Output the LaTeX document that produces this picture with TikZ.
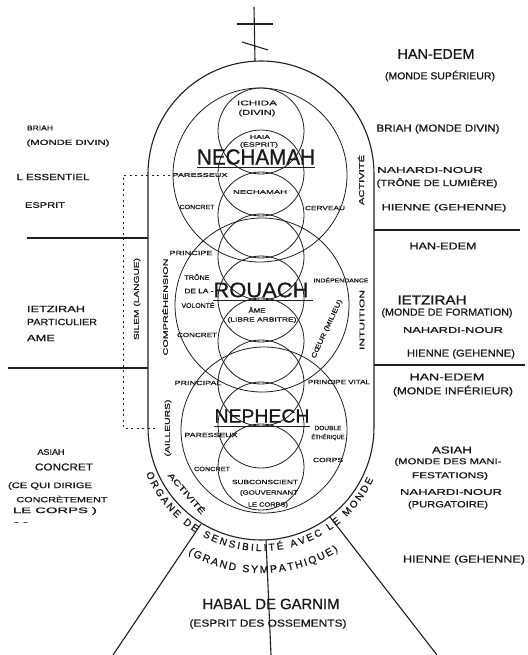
\documentclass[tikz,border=0pt]{standalone}
\usepackage{fontspec}
\usepackage{graphicx}
\newfontfamily\hand[FakeBold=0.8]{Liberation Sans}
\usetikzlibrary{decorations.text}
\newcommand\Lb[3]{{\fontsize{#1}{#1}\selectfont\resizebox{#2pt}{\height}{#3}}}
\begin{document}
\begin{tikzpicture}[x=1pt,y=-1pt,
  ink/.style={draw=black!88, line width=0.8pt},
  heavy/.style={draw=black!88, line width=1.1pt},
  lab/.style={inner sep=0pt, font=\hand, text=black!90},
  dashline/.style={draw=black!88, line width=0.9pt, dash pattern=on 2pt off 3.5pt}]
\useasboundingbox[fill=white] (0,0) rectangle (527,655);

% cross
\coordinate (crossTop) at (254,7);
\coordinate (crossFoot) at (255,61);
\draw[heavy] (crossTop) -- (crossFoot);
\draw[heavy] (237,24) -- (273,24);
\draw[heavy] (242,42) -- (268,50);

% outer stadium
\draw[heavy] (148,427) -- (148,174) arc[start angle=180,end angle=360,radius=113]
  -- (374,427) arc[start angle=0,end angle=180,radius=113] -- cycle;

% big circles
\draw[ink] (260,175) circle[radius=87];
\draw[ink] (262,305) circle[radius=87];
\draw[ink] (264,430) circle[radius=83];
% chain of small circles
\foreach \k in {0,...,8} \draw[ink] (261,{131+42*\k}) circle[radius=43];

% horizontal separators
\draw[heavy] (27,238) -- (148,238);
\draw[heavy] (8,368) -- (148,368);
\draw[heavy] (374,230) -- (520,230);
\draw[heavy] (374,365) -- (525,365);

% dashed line
\draw[dashline] (170,175) -- (123,175) -- (123,428) -- (158,428);

% radial lines below
\draw[heavy] (201,524) -- (113,655);
\draw[heavy] (266,540) -- (271,655);
\draw[heavy] (330,517) -- (437,655);

% underlines
\draw[ink] (197,167) -- (315,167);
\draw[ink] (213,300) -- (313,300);
\draw[ink] (214,426) -- (310,426);

% text along the outer arc
\path[decorate, decoration={text along path,
   text={|\hand\fontsize{10}{10}\selectfont\color{black!90}|ORGANE DE SENSIBILITÉ AVEC LE MONDE},
   text align={fit to path}}]
   (261,427) ++(158:124) arc[start angle=158,end angle=25,radius=124];
\path[decorate, decoration={text along path,
   text={|\hand\fontsize{10.5}{10.5}\selectfont\color{black!90}|(GRAND SYMPATHIQUE)},
   text align={fit to path}}]
   (261,427) ++(120:146) arc[start angle=120,end angle=58,radius=146];

% right column
\node[lab] (r1) at (436,54) {\Lb{14}{77}{HAN-EDEM}};
\node[lab] (r2) at (440,76) {\Lb{10}{110}{(MONDE SUPÉRIEUR)}};
\node[lab] (r3) at (438,129) {\Lb{10}{123}{BRIAH (MONDE DIVIN)}};
\node[lab] (r4) at (430,170) {\Lb{8.5}{106}{NAHARDI-NOUR}};
\node[lab] (r5) at (437,183) {\Lb{9}{121}{(TRÔNE DE LUMIÈRE)}};
\node[lab] (r6) at (444,208) {\Lb{9}{125}{HIENNE (GEHENNE)}};
\node[lab] (r7) at (443,246) {\Lb{10}{67}{HAN-EDEM}};
\node[lab] (r8) at (432,300) {\Lb{13}{69}{IETZIRAH}};
\node[lab] (r9) at (447,313) {\Lb{10}{131}{(MONDE DE FORMATION)}};
\node[lab] (r10) at (453,330) {\Lb{8.5}{100}{NAHARDI-NOUR}};
\node[lab] (r11) at (461,354) {\Lb{10}{108}{HIENNE (GEHENNE)}};
\node[lab] (r12) at (447,377) {\Lb{10}{75}{HAN-EDEM}};
\node[lab] (r13) at (453,391) {\Lb{10}{120}{(MONDE INFÉRIEUR)}};
\node[lab] (r14) at (452,450) {\Lb{10}{40}{ASIAH}};
\node[lab] (r15) at (448,462) {\Lb{8.5}{107}{(MONDE DES MANI-}};
\node[lab] (r16) at (450,476) {\Lb{8.5}{76}{FESTATIONS)}};
\node[lab] (r17) at (451,492) {\Lb{8.5}{102}{NAHARDI-NOUR}};
\node[lab] (r18) at (448,505) {\Lb{9}{80}{(PURGATOIRE)}};
\node[lab] (r19) at (464,560) {\Lb{10}{122}{HIENNE (GEHENNE)}};

% left column
\node[lab] (l1) at (40,128) {\Lb{7}{26}{BRIAH}};
\node[lab] (l2) at (68,143) {\Lb{7.5}{83}{(MONDE DIVIN)}};
\node[lab] (l3) at (53,177) {\Lb{9}{73}{L ESSENTIEL}};
\node[lab] (l4) at (45,205) {\Lb{8}{40}{ESPRIT}};
\node[lab] (l5) at (56,309) {\Lb{9}{58}{IETZIRAH}};
\node[lab] (l6) at (62,322) {\Lb{9}{70}{PARTICULIER}};
\node[lab] (l7) at (41,338) {\Lb{9}{28}{AME}};
\node[lab] (l8) at (51,452) {\Lb{8}{27}{ASIAH}};
\node[lab] (l9) at (64,467) {\Lb{10}{58}{CONCRET}};
\node[lab] (l10) at (50,486) {\Lb{8}{84}{(CE QUI DIRIGE}};
\node[lab] (l11) at (62,499) {\Lb{7.5}{91}{CONCRÈTEMENT}};
\node[lab] (l12) at (55,511) {\Lb{8}{84}{LE CORPS )}};
\node[lab] (l13) at (21,523) {\Lb{6}{14}{- -}};

% bottom
\node[lab] (b1) at (271,604) {\Lb{15}{137}{HABAL DE GARNIM}};
\node[lab] (b2) at (268,624) {\Lb{10}{157}{(ESPRIT DES OSSEMENTS)}};

% centre
\node[lab] (c1) at (257,103) {\Lb{7}{40}{ICHIDA}};
\node[lab] (c2) at (257,113) {\Lb{7}{37}{(DIVIN)}};
\node[lab] (c3) at (260,137) {\Lb{5.5}{20}{HAIA}};
\node[lab] (c4) at (259,145) {\Lb{6}{38}{(ESPRIT)}};
\node[lab] (c5) at (256,157) {\Lb{22}{118}{NECHAMAH}};
\node[lab] (c6) at (200,175) {\Lb{5.5}{55}{PARESSEUX}};
\node[lab] (c7) at (260,192) {\Lb{5.5}{54}{NECHAMAH}};
\node[lab] (c8) at (197,207) {\Lb{6}{35}{CONCRET}};
\node[lab] (c9) at (325,208) {\Lb{6}{40}{CERVEAU}};
\node[lab] (c10) at (191,253) {\Lb{6}{43}{PRINCIPE}};
\node[lab] (c11) at (197,277) {\Lb{6.5}{25}{TRÔNE}};
\node[lab] (c12) at (199,291) {\Lb{6.5}{29}{DE LA -}};
\node[lab] (c13) at (198,305) {\Lb{6.5}{33}{VOLONTÉ}};
\node[lab] (c14) at (261,290) {\Lb{21}{95}{ROUACH}};
\node[lab] (c15) at (341,280) {\Lb{5.5}{55}{INDÉPENDANCE}};
\node[lab] (c16) at (257,310) {\Lb{6}{17}{ÂME}};
\node[lab] (c17) at (262,320) {\Lb{6}{69}{(LIBRE ARBITRE)}};
\node[lab] (c18) at (197,335) {\Lb{6}{40}{CONCRET}};
\node[lab, rotate=65] (c19) at (327,329) {\Lb{6.5}{64}{CŒUR (MILIEU)}};
\node[lab] (c20) at (198,383) {\Lb{6}{47}{PRINCIPAL}};
\node[lab] (c21) at (339,382) {\Lb{6}{62}{PRINCIPE VITAL}};
\node[lab] (c22) at (262,416) {\Lb{19}{95}{NEPHECH}};
\node[lab] (c23) at (211,435) {\Lb{6}{53}{PARESSEUX}};
\node[lab] (c24) at (328,428) {\Lb{6}{27}{DOUBLE}};
\node[lab] (c25) at (328,437) {\Lb{6}{33}{ÉTHÉRIQUE}};
\node[lab] (c26) at (328,460) {\Lb{6}{30}{CORPS}};
\node[lab] (c27) at (212,469) {\Lb{6}{36}{CONCRET}};
\node[lab] (c28) at (265,482) {\Lb{6}{66}{SUBCONSCIENT}};
\node[lab] (c29) at (269,493) {\Lb{6}{58}{(GOUVERNANT}};
\node[lab] (c30) at (268,505) {\Lb{6}{40}{LE CORPS)}};

% vertical texts
\node[lab, rotate=90] (v1) at (137,299) {\Lb{7}{82}{SILEM (LANGUE)}};
\node[lab, rotate=90] (v2) at (165,307) {\Lb{6.5}{97}{COMPRÉHENSION}};
\node[lab, rotate=90] (v3) at (168,428) {\Lb{7}{57}{(AILLEURS)}};
\node[lab, rotate=90] (v4) at (361,180) {\Lb{7}{50}{ACTIVITÉ}};
\node[lab, rotate=90] (v5) at (362,320) {\Lb{7}{60}{INTUITION}};
\node[lab, rotate=-49] (v6) at (187,493) {\Lb{8}{52}{ACTIVITÉ}};
\end{tikzpicture}
\end{document}
